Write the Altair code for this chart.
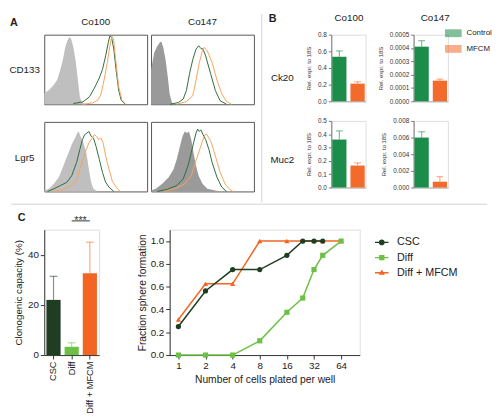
import altair as alt
import pandas as pd

FONT = "Liberation Sans"
TXT = "#222222"
SEP = "#d2d2d2"

# ---------------- Panel A: flow cytometry histograms ----------------
# x = fluorescence (0-100 % of axis width), y = normalized count (% of box height)
A_MARKERS = ["CD133", "Lgr5"]
A_LINES = ["Co100", "Co147"]
A_SERIES = ["Control", "MFCM"]

CD133_CO100_ISO_X = [0, 4.7, 9.4, 12.6, 15.7, 18.2, 20.4, 22.6, 24.5, 26.1, 28.3, 30.8, 33.0, 34.6, 36.2, 39.3]
CD133_CO100_ISO_Y = [15.8, 20.8, 28.2, 35.6, 50.5, 65.3, 82.7, 92.6, 97.5, 95.0, 82.7, 60.4, 30.7, 10.9, 3.5, 0]
CD133_CO100_CTL_X = [28.3, 37.7, 44.0, 48.7, 53.5, 56.6, 59.7, 62.3, 63.8, 65.4, 67.6, 69.8, 72.3, 74.8, 78.6]
CD133_CO100_CTL_Y = [1.0, 3.5, 10.9, 23.3, 38.1, 50.5, 70.3, 90.1, 99.0, 97.5, 80.2, 50.5, 20.8, 5.9, 0]
CD133_CO100_MF_X = [37.7, 47.2, 51.9, 55.0, 58.2, 61.3, 63.8, 65.7, 67.3, 69.8, 72.3, 75.5, 79.2]
CD133_CO100_MF_Y = [0, 2.0, 5.9, 13.4, 35.6, 60.4, 85.1, 99.0, 95.0, 60.4, 25.7, 5.9, 0]

CD133_CO147_ISO_X = [0, 3.1, 6.25, 8.75, 10.0, 11.9, 14.1, 16.25, 18.1, 20.3, 23.4]
CD133_CO147_ISO_Y = [50, 75, 85, 90, 91, 82.5, 65, 40, 15, 2.5, 0]
CD133_CO147_CTL_X = [18.75, 26.6, 31.25, 34.4, 37.5, 40.6, 43.75, 46.25, 48.4, 50.6, 53.1, 57.8, 62.5, 67.2, 73.4]
CD133_CO147_CTL_Y = [0, 2.5, 7.5, 20, 45, 65, 80, 85, 81, 80, 70, 45, 20, 5, 0]
CD133_CO147_MF_X = [25.0, 34.4, 40.6, 43.75, 46.9, 49.4, 51.6, 54.7, 59.4, 64.1, 68.75, 73.4, 78.1]
CD133_CO147_MF_Y = [0, 4, 12.5, 35, 60, 75, 82.5, 77.5, 60, 35, 15, 4, 0]

LGR5_CO100_ISO_X = [0, 4.7, 9.4, 14.2, 17.3, 20.4, 23.6, 26.7, 29.9, 32.1, 33.6, 35.2, 37.7, 40.9, 43.4, 45.6, 47.8, 51.9]
LGR5_CO100_ISO_Y = [1.4, 3.8, 11.0, 20.5, 32.4, 44.3, 56.2, 68.1, 77.6, 84.8, 87.1, 80.0, 72.9, 56.2, 32.4, 13.3, 3.8, 0]
LGR5_CO100_CTL_X = [3.1, 9.4, 15.7, 22.0, 26.7, 31.4, 34.6, 37.1, 39.3, 41.5, 43.4, 45.6, 47.8, 50.3, 53.5, 56.6, 59.7, 62.9, 67.6]
LGR5_CO100_CTL_Y = [0, 3.8, 8.6, 13.3, 22.9, 41.9, 61.0, 75.2, 82.4, 84.8, 87.1, 80.0, 77.6, 65.7, 46.7, 27.6, 13.3, 6.2, 0]
LGR5_CO100_MF_X = [9.4, 18.9, 26.7, 31.4, 34.6, 37.7, 40.9, 43.4, 45.6, 48.7, 50.9, 52.8, 55.0, 57.2, 59.7, 62.9, 66.0, 69.8, 73.9]
LGR5_CO100_MF_Y = [0, 2.9, 8.6, 15.7, 32.4, 46.7, 61.0, 70.5, 75.2, 82.4, 80.0, 75.2, 77.6, 70.5, 51.4, 32.4, 15.7, 6.2, 0]

LGR5_CO147_ISO_X = [0, 4.7, 10.9, 17.2, 21.9, 25.0, 28.1, 30.6, 32.8, 35.0, 36.9, 39.1, 41.3, 43.75, 46.25, 50.0, 54.7, 62.5, 67.2]
LGR5_CO147_ISO_Y = [1.4, 3.8, 11.0, 20.5, 32.4, 46.7, 65.7, 80.0, 87.1, 84.8, 87.1, 75.2, 56.2, 37.1, 22.9, 11.0, 3.8, 1.4, 0]
LGR5_CO147_CTL_X = [6.25, 15.6, 25.0, 31.25, 35.9, 39.1, 41.3, 43.75, 45.3, 46.9, 48.4, 50.6, 53.1, 56.25, 59.4, 64.1, 68.75, 73.4]
LGR5_CO147_CTL_Y = [0, 2.9, 8.6, 18.1, 37.1, 56.2, 70.5, 84.8, 90.5, 87.1, 89.5, 82.4, 75.2, 61.0, 41.9, 20.5, 6.2, 0]
LGR5_CO147_MF_X = [12.5, 25.0, 32.8, 39.1, 43.1, 46.25, 49.4, 51.6, 53.75, 56.25, 58.75, 62.5, 67.2, 71.9, 76.6, 79.7]
LGR5_CO147_MF_Y = [0, 4.8, 11.0, 22.9, 41.9, 56.2, 70.5, 80.0, 83.8, 77.6, 70.5, 51.4, 27.6, 11.0, 2.9, 0]

HIST = {
    ("CD133", "Co100"): [(CD133_CO100_ISO_X, CD133_CO100_ISO_Y), (CD133_CO100_CTL_X, CD133_CO100_CTL_Y), (CD133_CO100_MF_X, CD133_CO100_MF_Y)],
    ("CD133", "Co147"): [(CD133_CO147_ISO_X, CD133_CO147_ISO_Y), (CD133_CO147_CTL_X, CD133_CO147_CTL_Y), (CD133_CO147_MF_X, CD133_CO147_MF_Y)],
    ("Lgr5", "Co100"): [(LGR5_CO100_ISO_X, LGR5_CO100_ISO_Y), (LGR5_CO100_CTL_X, LGR5_CO100_CTL_Y), (LGR5_CO100_MF_X, LGR5_CO100_MF_Y)],
    ("Lgr5", "Co147"): [(LGR5_CO147_ISO_X, LGR5_CO147_ISO_Y), (LGR5_CO147_CTL_X, LGR5_CO147_CTL_Y), (LGR5_CO147_MF_X, LGR5_CO147_MF_Y)],
}

# ---------------- Panel B: qPCR bar charts ----------------
B_MARKERS = ["Ck20", "Muc2"]
B_LINES = ["Co100", "Co147"]
B_GROUPS = ["Control", "MFCM"]
CK20_CO100_MEAN = [0.535, 0.212]
CK20_CO100_ERR = [0.07, 0.022]
CK20_CO100_AXMAX = 0.8
CK20_CO147_MEAN = [0.00041, 0.000155]
CK20_CO147_ERR = [0.000045, 0.000012]
CK20_CO147_AXMAX = 0.0005
MUC2_CO100_MEAN = [0.36, 0.165]
MUC2_CO100_ERR = [0.065, 0.02]
MUC2_CO100_AXMAX = 0.5
MUC2_CO147_MEAN = [0.006, 0.0007]
MUC2_CO147_ERR = [0.0007, 0.0006]
MUC2_CO147_AXMAX = 0.008

# ---------------- Panel C ----------------
C_CONDS = ["CSC", "Diff", "Diff + MFCM"]
C_MEAN = [22.0, 3.3, 32.6]
C_ERR = [9.4, 1.6, 12.4]
C_YTICKS = [0, 10, 20, 30, 40, 50]
SIG_FROM = "Diff"
SIG_TO = "Diff + MFCM"
SIG_Y = 53.5
SIG_LABEL = "***"

LD_CELLS_CSC = [1, 2, 4, 8, 16, 24, 32, 40]
LD_FRAC_CSC = [0.25, 0.5625, 0.75, 0.75, 0.875, 1.0, 1.0, 1.0]
LD_CELLS_DIFF = [1, 2, 4, 8, 16, 24, 32, 40, 64]
LD_FRAC_DIFF = [0.0, 0.0, 0.0, 0.125, 0.375, 0.5, 0.75, 0.875, 1.0]
LD_CELLS_MFCM = [1, 2, 4, 8, 16, 24, 32, 40, 64]
LD_FRAC_MFCM = [0.3125, 0.625, 0.625, 1.0, 1.0, 1.0, 1.0, 1.0, 1.0]
LD_XTICKS = [1, 2, 4, 8, 16, 32, 64]
LD_YTICKS = [0.0, 0.2, 0.4, 0.6, 0.8, 1.0]

# ---------------- colours / symbols ----------------
HIST_FILL = ["#bfbfbf", "#9a9a9a"]
HIST_LINE = ["#2e6a3b", "#f6a35c"]
B_COLORS = ["#1b8c49", "#f26a2c"]
C_COLORS = ["#1f3d21", "#6cc046", "#f26522"]
C_SHAPES = ["circle", "square", "triangle-up"]
# legend glyphs: a short line segment with the marker on it
LEG_SYMBOLS = [
    "M-2.3,-0.22H2.3V0.22H-2.3Z M1,0A1,1 0 1,1 -1,0A1,1 0 1,1 1,0Z",
    "M-2.3,-0.22H2.3V0.22H-2.3Z M-0.9,-0.9H0.9V0.9H-0.9Z",
    "M-2.3,-0.22H2.3V0.22H-2.3Z M0,-1.15L1.05,0.7H-1.05Z",
]


def label(text, x, y, size=10, weight="normal", align="center"):
    return alt.Chart(pd.DataFrame({"t": [text]})).mark_text(
        font=FONT, fontSize=size, fontWeight=weight, color=TXT, align=align, baseline="middle"
    ).encode(text="t:N", x=alt.value(x), y=alt.value(y))


def sep_rule(x, y, x2=None, y2=None):
    enc = {"x": alt.value(x), "y": alt.value(y)}
    if x2 is not None:
        enc["x2"] = alt.value(x2)
    if y2 is not None:
        enc["y2"] = alt.value(y2)
    return alt.Chart(pd.DataFrame({"s": [0]})).mark_rule(color=SEP, strokeWidth=1).encode(**enc)


# ================= Panel A =================
HW, HH = 105, 71
hx = alt.X("x:Q", scale=alt.Scale(domain=[0, 100], nice=False, zero=False), axis=None)
hy = alt.Y("y:Q", scale=alt.Scale(domain=[0, 101], nice=False), axis=None)


def hist_cell(marker, line, col_head, row_head, letter):
    curves = HIST[(marker, line)]
    iso = pd.DataFrame({"x": curves[0][0], "y": curves[0][1], "line": line})
    stained = pd.concat([pd.DataFrame({"x": cx_, "y": cy_, "series": s})
                         for s, (cx_, cy_) in zip(A_SERIES, curves[1:])])
    layers = [
        alt.Chart(iso).mark_area(opacity=1).encode(
            x=hx, y=hy, fill=alt.Fill("line:N", scale=alt.Scale(domain=A_LINES, range=HIST_FILL), legend=None)),
        alt.Chart(stained).mark_line(strokeWidth=1).encode(
            x=hx, y=hy, stroke=alt.Stroke("series:N", scale=alt.Scale(domain=A_SERIES, range=HIST_LINE), legend=None)),
    ]
    if col_head:
        layers.append(label(line, HW / 2, -13))
    if row_head:
        layers.append(label(marker, -20, HH / 2 + 1))
    if letter:
        layers.append(label(letter, -31, -12, size=11, weight="bold"))
    return alt.layer(*layers).properties(width=HW, height=HH,
                                         view=alt.ViewBackground(stroke="#555555", strokeWidth=1))


panelA = alt.concat(
    hist_cell("CD133", "Co100", True, True, "A"),
    hist_cell("CD133", "Co147", True, False, None),
    hist_cell("Lgr5", "Co100", False, True, None),
    hist_cell("Lgr5", "Co147", False, False, None),
    columns=2, spacing={"row": 18, "column": 4}, bounds="flush",
).resolve_scale(fill="shared", stroke="shared")

# ================= Panel B =================
BW, BH = 35, 68
YT = "Rel. expr. to 18S"
bx = alt.X("group:N", sort=B_GROUPS, scale=alt.Scale(paddingInner=0.22, paddingOuter=0.05),
           axis=alt.Axis(labels=False, ticks=False, title=None, domainColor="#aaaaaa"))
b_color = alt.Color("group:N", scale=alt.Scale(domain=B_GROUPS, range=B_COLORS),
                    legend=alt.Legend(title=None, orient="none", legendX=116, legendY=-10,
                                      symbolType="M-1,-0.47H1V0.47H-1Z", symbolSize=289,
                                      symbolStrokeWidth=0, labelFont=FONT, labelFontSize=8,
                                      labelColor=TXT, rowPadding=3, labelOffset=5, padding=0))


def b_cell(marker, line, means, errs, axmax, col_head, col_dx, row_head, row_dy, letter):
    d = pd.DataFrame({"group": B_GROUPS, "mean": means, "top": [m + e for m, e in zip(means, errs)]})
    ys = alt.Scale(domain=[0, axmax], nice=False, zero=True)
    yaxis = alt.Axis(title=YT, tickCount=5, labelFontSize=6.5, titleFontSize=6, titleFontWeight="normal",
                     labelFont=FONT, titleFont=FONT, tickSize=3, domainColor="#777777", tickColor="#777777",
                     labelColor="#333333", titleColor="#333333", titlePadding=6, labelPadding=2, grid=False)
    layers = [
        alt.Chart(d).mark_bar().encode(x=bx, y=alt.Y("mean:Q", scale=ys, axis=yaxis), color=b_color),
        alt.Chart(d).mark_rule(strokeWidth=1.2, opacity=0.55).encode(
            x=bx, y=alt.Y("mean:Q", title=YT), y2="top:Q", color=b_color),
        alt.Chart(d).mark_tick(thickness=1.2, size=7, opacity=0.55).encode(
            x=bx, y=alt.Y("top:Q", title=YT), color=b_color),
    ]
    if col_head:
        layers.append(label(line, BW / 2 + col_dx, -17))
    if row_head:
        layers.append(label(marker, -50, BH / 2 + row_dy))
    if letter:
        layers.append(label(letter, -60, -16, size=11, weight="bold"))
        # light separator between panels A and B
        layers.append(sep_rule(-71, -21, y2=171))
    return alt.layer(*layers).properties(width=BW, height=BH)


panelB = alt.concat(
    b_cell("Ck20", "Co100", CK20_CO100_MEAN, CK20_CO100_ERR, CK20_CO100_AXMAX, True, 0.5, True, 10, "B"),
    b_cell("Ck20", "Co147", CK20_CO147_MEAN, CK20_CO147_ERR, CK20_CO147_AXMAX, True, 4.5, False, 0, None),
    b_cell("Muc2", "Co100", MUC2_CO100_MEAN, MUC2_CO100_ERR, MUC2_CO100_AXMAX, False, 0, True, 6, None),
    b_cell("Muc2", "Co147", MUC2_CO147_MEAN, MUC2_CO147_ERR, MUC2_CO147_AXMAX, False, 0, False, 0, None),
    columns=2, spacing={"row": 20, "column": 49}, bounds="flush",
)

# ================= Panel C: clonogenic capacity bars =================
c_df = pd.DataFrame({"cond": C_CONDS, "mean": C_MEAN, "top": [m + e for m, e in zip(C_MEAN, C_ERR)]})
sig_df = pd.DataFrame({"a": [SIG_FROM], "b": [SIG_TO], "y": [SIG_Y], "label": [SIG_LABEL]})
cx = alt.X("cond:N", sort=C_CONDS, scale=alt.Scale(paddingInner=0.22, paddingOuter=0.12),
           axis=alt.Axis(title=None, labelAngle=-90, labelFont=FONT, labelFontSize=9.5, labelColor=TXT,
                         tickSize=4, domainColor="#333333", tickColor="#333333", labelPadding=2))
CH = 128
cy_scale = alt.Scale(domain=[0, 50], nice=False)
C_YT = "Clonogenic capacity (%)"
c_color = alt.Color("cond:N", scale=alt.Scale(domain=C_CONDS, range=C_COLORS), legend=None)
cbar = alt.layer(
    alt.Chart(c_df).mark_bar().encode(
        x=cx,
        y=alt.Y("mean:Q", scale=cy_scale, axis=alt.Axis(
            values=C_YTICKS, title=C_YT, labelFont=FONT, titleFont=FONT, labelFontSize=10, titleFontSize=10,
            titleFontWeight="normal", tickSize=4, domainColor="#333333", tickColor="#333333",
            labelColor=TXT, titleColor=TXT, grid=False, titlePadding=4, labelPadding=2)),
        color=c_color),
    alt.Chart(c_df).mark_rule(strokeWidth=1.2, opacity=0.55).encode(
        x=cx, y=alt.Y("mean:Q", title=C_YT), y2="top:Q", color=c_color),
    alt.Chart(c_df).mark_tick(thickness=1.2, size=8, opacity=0.55).encode(
        x=cx, y=alt.Y("top:Q", title=C_YT), color=c_color),
    alt.Chart(sig_df).mark_rule(color="#333333", strokeWidth=1).encode(
        x=alt.X("a:N", sort=C_CONDS), x2="b:N", y=alt.Y("y:Q", title=C_YT)),
    alt.Chart(sig_df).mark_text(font=FONT, fontSize=11, dx=9, dy=3, baseline="alphabetic",
                                color="#333333").encode(
        x=alt.X("a:N", sort=C_CONDS), y=alt.Y("y:Q", title=C_YT), text="label:N"),
    label("C", -23, -12, size=11, weight="bold"),
    # light separator between the top panels and panel C
    sep_rule(-34, -26, x2=452),
).properties(width=56, height=CH)

# ================= Panel C: limiting dilution =================
ld_rows = []
for cond, cells, fr in [("Diff + MFCM", LD_CELLS_MFCM, LD_FRAC_MFCM),
                        ("Diff", LD_CELLS_DIFF, LD_FRAC_DIFF),
                        ("CSC", LD_CELLS_CSC, LD_FRAC_CSC)]:
    for c, f in zip(cells, fr):
        ld_rows.append({"cond": cond, "cells": c, "frac": f})
ld_df = pd.DataFrame(ld_rows)

lx = alt.X("cells:Q", scale=alt.Scale(type="log", base=2, domain=[0.8, 103], nice=False),
           axis=alt.Axis(values=LD_XTICKS, format="d", title="Number of cells plated per well",
                         labelFont=FONT, titleFont=FONT, labelFontSize=10, titleFontSize=10.5,
                         titleFontWeight="normal", tickSize=4, domainColor="#333333", tickColor="#333333",
                         labelColor=TXT, titleColor=TXT, grid=False, titlePadding=4, labelPadding=2))
ly = alt.Y("frac:Q", scale=alt.Scale(domain=[0, 1.1], nice=False),
           axis=alt.Axis(values=LD_YTICKS, format=".1f", title="Fraction sphere formation",
                         labelFont=FONT, titleFont=FONT, labelFontSize=10, titleFontSize=10.5,
                         titleFontWeight="normal", tickSize=4, domainColor="#333333", tickColor="#333333",
                         labelColor=TXT, titleColor=TXT, grid=False, titlePadding=3, labelPadding=2))
ld_legend = alt.Legend(title=None, orient="none", legendX=211, legendY=7.5, labelFont=FONT, labelFontSize=11,
                       labelColor=TXT, symbolSize=36, symbolOpacity=1, symbolStrokeWidth=0,
                       rowPadding=3.5, labelOffset=10, padding=0)
ld_color = alt.Color("cond:N", scale=alt.Scale(domain=C_CONDS, range=C_COLORS), legend=ld_legend)
# stroke scale for the connecting lines (listed in reverse so it stays a separate, legend-free scale)
llines = alt.Chart(ld_df).mark_line(strokeWidth=1.5).encode(
    x=lx, y=ly, stroke=alt.Stroke("cond:N", scale=alt.Scale(domain=C_CONDS[::-1], range=C_COLORS[::-1]),
                                  legend=None))
pt_layers = [
    alt.Chart(ld_df).transform_filter(alt.datum.cond == cond).mark_point(
        shape=shp, filled=True, size=28, opacity=1).encode(x=lx, y=ly, color=ld_color)
    for cond, shp in list(zip(C_CONDS, C_SHAPES))[::-1]
]
# invisible layer that only supplies the legend glyphs (line + marker)
lleg = alt.Chart(ld_df).mark_point(filled=True, size=36, opacity=0).encode(
    x=lx, y=ly, color=ld_color,
    shape=alt.Shape("cond:N", scale=alt.Scale(domain=C_CONDS, range=LEG_SYMBOLS), legend=ld_legend))
lchart = alt.layer(llines, *pt_layers, lleg).properties(width=194, height=CH)

top = alt.hconcat(panelA, panelB, spacing=6).resolve_scale(color="independent", fill="independent",
                                                           stroke="independent")
bottom = alt.hconcat(cbar, lchart, spacing=72, bounds="flush").resolve_scale(
    color="independent", shape="independent")
chart = alt.vconcat(top, bottom, spacing=0).resolve_scale(
    color="independent", shape="independent", fill="independent", stroke="independent").properties(
    padding=0, background="white"
).configure_view(stroke="transparent").configure(font=FONT)

chart.save("out.html", embed_options={"renderer": "svg", "actions": False})
